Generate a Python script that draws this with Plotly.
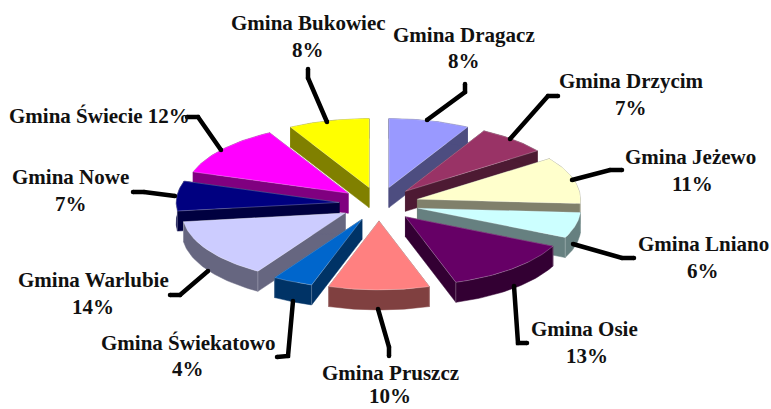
import numpy as np
import plotly.graph_objects as go

# --- data -------------------------------------------------------------
labels = ["Gmina Dragacz", "Gmina Drzycim", "Gmina Jeżewo", "Gmina Lniano", "Gmina Osie",
          "Gmina Pruszcz", "Gmina Świekatowo", "Gmina Warlubie", "Gmina Nowe",
          "Gmina Świecie", "Gmina Bukowiec"]
values = [8, 7, 11, 6, 13, 10, 4, 14, 7, 12, 8]

# --- style ------------------------------------------------------------
top_colors = ["#9999FF", "#993366", "#FFFFCC", "#CCFFFF", "#660066", "#FF8080",
              "#0066CC", "#CCCCFF", "#000080", "#FF00FF", "#FFFF00"]
side_colors = ["#4D4D80", "#4D1A33", "#80806B", "#668080", "#330033", "#804040",
               "#003366", "#666680", "#000040", "#800080", "#808000"]

# --- layout geometry (pixels) -----------------------------------------
W, H = 771, 409
CX, CY, RX, RY, DEPTH = 379.0, 204.0, 163.0, 69.0, 20.0
EXPLODE = 40.0
FONT = "Liberation Serif"
FS = 21

label_pos = [((464, 35), (464, 61)), ((631, 81), (631, 108)), ((690, 157), (692, 184)),
             ((703, 244), (703, 271)), ((584, 329), (587, 356)), ((390, 373), (390, 396)),
             ((188, 343), (188, 369)), ((93, 280), (93, 307)), ((70, 177), (71, 204)),
             ((99, 116), None), ((308, 23), (308, 50))]
leaders = [[(427, 120), (465, 92), (465, 84)], [(510, 139), (548, 96), (558, 96)],
           [(572, 180), (610, 170), (622, 170)], [(573, 244), (622, 258), (634, 258)],
           [(514, 286), (518, 343), (527, 343)], [(378, 309), (389, 347), (389, 356)],
           [(293, 301), (288, 356), (277, 357)], [(208, 271), (180, 295), (170, 295)],
           [(175, 196), (144, 192), (133, 192)], [(221, 150), (198, 117), (187, 117)],
           [(327, 122), (308, 78), (308, 69)]]

# --- wedge construction from the values -------------------------------
vals = np.array(values, dtype=float)
edges = np.concatenate([[0], np.cumsum(vals)]) / vals.sum() * 2 * np.pi


def wedge(a0, a1):
    mid = (a0 + a1) / 2
    ax = CX + EXPLODE * np.sin(mid)
    ay = CY - EXPLODE * RY / RX * np.cos(mid)
    t = np.linspace(a0, a1, 40)
    return ax, ay, ax + RX * np.sin(t), ay - RY * np.cos(t)


def poly(fig, x, y, fill, line="rgba(0,0,0,0)", width=0.5, name=None):
    fig.add_trace(go.Scatter(x=list(x), y=list(y), mode="lines", fill="toself", fillcolor=fill,
                             line=dict(color=line, width=width), showlegend=False,
                             name=name, hoverinfo="name" if name else "skip"))


fig = go.Figure()

# painter's order: from the back of the pie to the front
n = len(values)
mids = (edges[:-1] + edges[1:]) / 2
order = sorted(range(n), key=lambda i: np.cos(mids[i]), reverse=True)
EDGE = "rgba(255,255,255,0.35)"

for i in order:
    ax, ay, ex, ey = wedge(edges[i], edges[i + 1])
    c = side_colors[i]
    # walls: two cut faces and the outer rim, each a band hanging below the top edge
    bands = [(np.array([ax, ex[0]]), np.array([ay, ey[0]])),
             (np.array([ex[-1], ax]), np.array([ey[-1], ay])),
             (ex, ey)]
    for bx, by in bands:
        poly(fig, np.r_[bx, bx[::-1], bx[0]], np.r_[by, by[::-1] + DEPTH, by[0]], c, c)
    # highlights on the front corners of the walls
    vx, vy = [], []
    for px, py in ((ex[0], ey[0]), (ex[-1], ey[-1])):
        if py > ay:
            vx += [px, px, None]
            vy += [py, py + DEPTH, None]
    if vx:
        fig.add_trace(go.Scatter(x=vx, y=vy, mode="lines", line=dict(color=EDGE, width=0.7),
                                 hoverinfo="skip", showlegend=False))
    # top face
    poly(fig, np.r_[ax, ex, ax], np.r_[ay, ey, ay], top_colors[i], EDGE, 0.7, labels[i])

# leader lines
for pts in leaders:
    fig.add_trace(go.Scatter(x=[p[0] for p in pts], y=[p[1] for p in pts], mode="lines+markers",
                             line=dict(color="black", width=4.5),
                             marker=dict(color="black", size=4.5), hoverinfo="skip",
                             showlegend=False))

# labels
anns = []
for i, (lab, pos) in enumerate(zip(labels, label_pos)):
    pct = f"{values[i]}%"
    first = lab if pos[1] is not None else f"{lab} {pct}"
    lines = [(first, pos[0])] + ([(pct, pos[1])] if pos[1] is not None else [])
    for text, (x, y) in lines:
        anns.append(dict(x=x, y=y, text=text, showarrow=False, xref="x", yref="y",
                         xanchor="center", yanchor="middle",
                         font=dict(family=FONT, size=FS, color="#111111", weight="bold")))

fig.update_layout(
    width=W, height=H, margin=dict(l=0, r=0, t=0, b=0),
    paper_bgcolor="white", plot_bgcolor="white", showlegend=False,
    xaxis=dict(range=[0, W], visible=False, fixedrange=True),
    yaxis=dict(range=[H, 0], visible=False, fixedrange=True),
    annotations=anns,
)
fig.write_html("out.html", post_script="document.body.style.margin='0';",
               config={"displayModeBar": False})
